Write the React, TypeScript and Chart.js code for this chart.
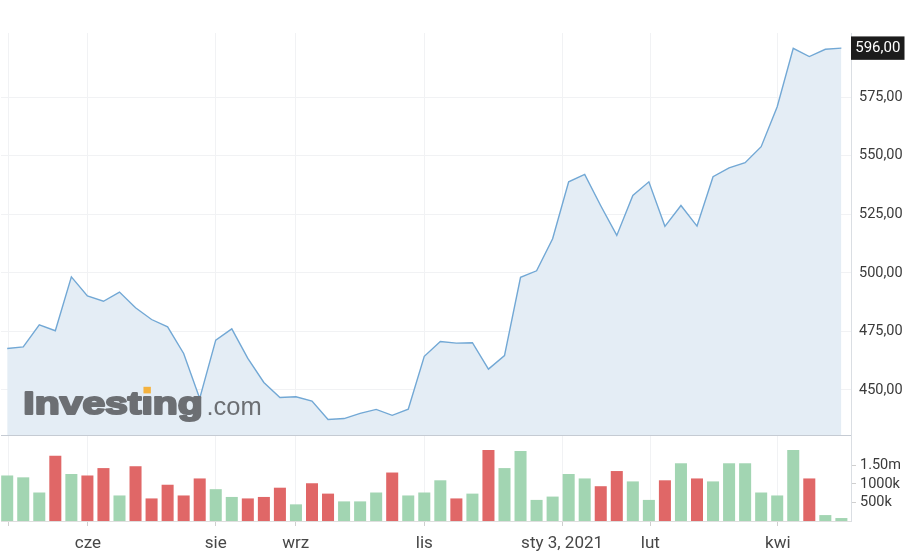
import React, { useEffect, useRef } from 'react';
import { Chart, registerables } from 'chart.js';

Chart.register(...registerables);

// Weekly closing prices (index 0 = first week shown)
const closes = [
  467.7, 468.4, 477.8, 475.3, 498.3, 490.2, 487.9, 491.8, 485.1, 480.1,
  477.0, 465.6, 446.4, 471.3, 476.1, 463.5, 453.2, 446.8, 447.1, 445.3,
  437.4, 437.8, 440.0, 441.7, 439.2, 441.8, 464.4, 470.7, 470.0, 470.2,
  458.9, 464.7, 498.1, 500.9, 514.6, 538.9, 542.1, 528.7, 516.0, 533.1,
  538.9, 519.9, 528.8, 520.0, 541.1, 544.9, 547.1, 553.9, 571.0, 595.9,
  592.4, 595.5, 596.0,
];

// Weekly volumes
const volumes = [
  1230000, 1180000, 770000, 1760000, 1270000, 1230000, 1430000, 690000, 1480000, 610000,
  980000, 690000, 1150000, 860000, 650000, 610000, 650000, 900000, 450000, 1020000,
  740000, 530000, 530000, 770000, 1310000, 690000, 770000, 1100000, 610000, 740000,
  1920000, 1430000, 1890000, 570000, 660000, 1270000, 1150000, 940000, 1350000, 1070000,
  570000, 1100000, 1560000, 1150000, 1070000, 1560000, 1560000, 770000, 690000, 1920000,
  1150000, 160000, 80000,
];

// X axis ticks (positions in week-index units) and their labels
const xTickPositions = [0.05, 5.03, 13.0, 17.98, 26.0, 34.59, 40.09, 48.04];
const xTickLabels = ['', 'cze', 'sie', 'wrz', 'lis', 'sty 3, 2021', 'lut', 'kwi'];

const priceTicks = [450, 475, 500, 525, 550, 575];
const priceTickLabels = ['450,00', '475,00', '500,00', '525,00', '550,00', '575,00'];

const volumeTicks = [500000, 1000000, 1500000];
const volumeTickLabels = ['500k', '1000k', '1.50m'];

const lastPriceLabel = '596,00';

const UP = '#a2d5b2';
const DOWN = '#e06767';

export default function App() {
  const ref = useRef<HTMLCanvasElement>(null);

  useEffect(() => {
    document.body.style.margin = '0';
    const canvas = ref.current!;
    const barColors = closes.map((c, i) => (i === 0 || c >= closes[i - 1] ? UP : DOWN));

    const overlay = {
      id: 'overlay',
      afterDatasetsDraw(chart: any) {
        const { ctx, chartArea, scales } = chart;
        const y = scales.y;
        ctx.save();
        // separator between price and volume panels
        ctx.strokeStyle = '#c5cbd3';
        ctx.lineWidth = 1.2;
        ctx.beginPath();
        ctx.moveTo(chartArea.left, y.bottom + 0.5);
        ctx.lineTo(chartArea.right, y.bottom + 0.5);
        ctx.stroke();

        // watermark logo
        const baseY = 414.3;
        const x0 = 23.3;
        const gray = '#6c6f73';
        ctx.fillStyle = gray;
        ctx.strokeStyle = gray;
        ctx.lineJoin = 'round';
        ctx.textBaseline = 'alphabetic';
        ctx.textAlign = 'left';
        ctx.font = 'bold 31px "Liberation Sans"';
        const word = 'Invest\u0131ng';
        const w = ctx.measureText(word).width;
        const sx = 179.5 / w;
        ctx.save();
        ctx.translate(x0, baseY);
        ctx.scale(sx, 1);
        ctx.lineWidth = 2.1;
        ctx.fillText(word, 0, 0);
        ctx.strokeText(word, 0, 0);
        const ix = ctx.measureText('Invest').width;
        const iw = ctx.measureText('\u0131').width;
        ctx.restore();
        const dotCx = x0 + (ix + iw / 2) * sx;
        ctx.fillStyle = '#f4b23f';
        ctx.fillRect(dotCx - 3.7, 386.8, 7.4, 6.6);
        ctx.fillStyle = gray;
        ctx.font = '25.5px "Liberation Sans"';
        ctx.fillText('.com', 206.5, baseY + 0.5);
        ctx.restore();
      },
      afterDraw(chart: any) {
        const { ctx, chartArea, scales } = chart;
        const y = scales.y;
        const py = y.getPixelForValue(closes[closes.length - 1]);
        ctx.save();
        ctx.fillStyle = '#1c1c1c';
        ctx.fillRect(chartArea.right, py - 11.7, 53.5, 23.4);
        ctx.fillStyle = '#ffffff';
        ctx.font = '15px Roboto';
        ctx.textAlign = 'center';
        ctx.textBaseline = 'middle';
        ctx.fillText(lastPriceLabel, chartArea.right + 26.8, py + 0.5);
        ctx.restore();
      },
    };

    const chart = new Chart(canvas, {
      type: 'bar',
      data: {
        datasets: [
          {
            type: 'line',
            data: closes.map((v, i) => ({ x: i, y: v })),
            xAxisID: 'x',
            yAxisID: 'y',
            borderColor: '#72a8d5',
            borderWidth: 1.4,
            backgroundColor: '#e4edf5',
            fill: 'start',
            pointRadius: 0,
            tension: 0,
          } as any,
          {
            type: 'bar',
            data: volumes.map((v, i) => ({ x: i, y: v })),
            xAxisID: 'x',
            yAxisID: 'y2',
            backgroundColor: barColors,
            borderWidth: 0,
            barPercentage: 0.75,
            categoryPercentage: 1,
          } as any,
        ],
      },
      options: {
        responsive: false,
        animation: false,
        devicePixelRatio: 1,
        layout: { padding: { top: 33, left: 0, right: 0, bottom: 0 } },
        plugins: { legend: { display: false }, tooltip: { enabled: false } },
        scales: {
          x: {
            type: 'linear',
            offset: false,
            min: -0.386,
            max: 52.6,
            afterBuildTicks: (s: any) => {
              s.ticks = xTickPositions.map((v) => ({ value: v }));
            },
            afterFit: (s: any) => {
              s.height = 38;
            },
            grid: {
              offset: false,
              color: '#f1f2f4',
              tickColor: '#cfcfcf',
              tickLength: 5,
              drawTicks: true,
            },
            border: { display: true, color: '#dedede' },
            ticks: {
              autoSkip: false,
              maxRotation: 0,
              minRotation: 0,
              padding: 8,
              color: '#474747',
              font: { family: 'Roboto', size: 17 },
              callback: (_v: any, i: number) => xTickLabels[i],
            },
          },
          y: {
            type: 'linear',
            position: 'right',
            stack: 'panels',
            stackWeight: 402,
            min: 430.78,
            max: 602.46,
            afterBuildTicks: (s: any) => {
              s.ticks = priceTicks.map((v) => ({ value: v }));
            },
            afterFit: (s: any) => {
              s.width = 69;
            },
            grid: { color: '#f1f2f4', drawTicks: false },
            border: { display: true, color: '#dadee3' },
            ticks: {
              padding: 8,
              color: '#3a3a3a',
              font: { family: 'Roboto', size: 14.5 },
              callback: (_v: any, i: number) => priceTickLabels[i],
            },
          },
          y2: {
            type: 'linear',
            position: 'right',
            stack: 'panels',
            stackWeight: 86,
            min: 0,
            max: 2324000,
            afterBuildTicks: (s: any) => {
              s.ticks = volumeTicks.map((v) => ({ value: v }));
            },
            afterFit: (s: any) => {
              s.width = 69;
            },
            grid: {
              drawOnChartArea: false,
              drawTicks: true,
              tickLength: 5,
              tickColor: '#cfcfcf',
            },
            border: { display: true, color: '#dadee3' },
            ticks: {
              padding: 4,
              color: '#3a3a3a',
              font: { family: 'Roboto', size: 14.5 },
              callback: (_v: any, i: number) => volumeTickLabels[i],
            },
          },
        },
      },
      plugins: [overlay],
    });

    return () => chart.destroy();
  }, []);

  return (
    <div style={{ width: 920, height: 559, position: 'relative', background: '#ffffff' }}>
      <canvas ref={ref} width={920} height={559} style={{ display: 'block' }} />
    </div>
  );
}
